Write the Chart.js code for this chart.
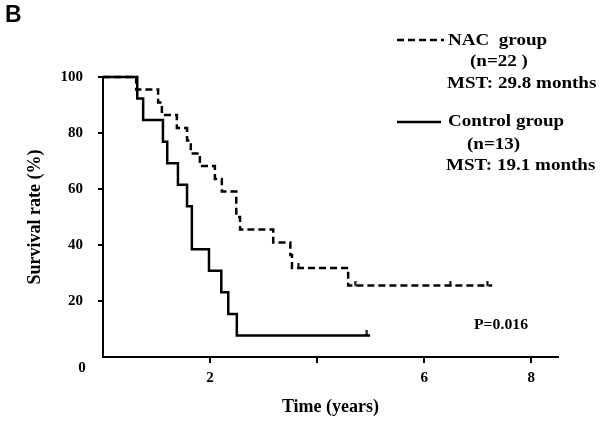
<!DOCTYPE html>
<html><head><meta charset="utf-8">
<script src="https://cdn.jsdelivr.net/npm/chart.js@4"></script>
<style>html,body{margin:0;padding:0;background:#fff}</style>
</head><body>
<canvas id="c" width="602" height="421"></canvas>
<script>
// NAC group (n=22)
const nacTimes    = [0, 0.62, 1.03, 1.10, 1.38, 1.57, 1.64, 1.81, 2.09, 2.22, 2.49, 2.56, 3.18, 3.50, 3.53, 4.58, 7.27];
const nacSurvival = [100, 95.5, 90.9, 86.4, 81.8, 77.3, 72.7, 68.2, 63.6, 59.1, 50.0, 45.5, 40.9, 36.4, 31.8, 25.5, 25.5];
const nacCensorTimes    = [3.65, 4.71, 6.49, 7.18];
const nacCensorSurvival = [31.8, 25.5, 25.5, 25.5];
// Control group (n=13)
const ctrlTimes    = [0, 0.64, 0.75, 1.12, 1.20, 1.40, 1.57, 1.66, 1.98, 2.21, 2.34, 2.50, 4.99];
const ctrlSurvival = [100, 92.3, 84.6, 76.9, 69.2, 61.5, 53.8, 38.5, 30.8, 23.1, 15.4, 7.7, 7.7];
const ctrlCensorTimes    = [4.93];
const ctrlCensorSurvival = [7.7];
// Axis ticks
const xTickValues = [0, 2, 4, 6, 8];
const xTickLabels = ['', '2', '', '6', '8'];
const yTickValues = [0, 20, 40, 60, 80, 100];
const yTickLabels = ['', '20', '40', '60', '80', '100'];

const pts = (xs, ys) => xs.map((x, i) => ({x: x, y: ys[i]}));
const SERIF = '"Liberation Serif", "Times New Roman", serif';

// censor tick marker (upward tick only)
const tickImg = document.createElement('canvas');
tickImg.width = 3; tickImg.height = 10;
(function () {
  const g = tickImg.getContext('2d');
  g.fillStyle = '#000';
  g.fillRect(0.5, 0, 2, 5.5);
})();

const textPlugin = {
  id: 'texts',
  afterDraw(chart) {
    const ctx = chart.ctx;
    ctx.save();
    ctx.fillStyle = '#000';
    const txt = (s, x, y, font, sx, align) => {
      ctx.save();
      ctx.font = font;
      ctx.textBaseline = 'middle';
      ctx.textAlign = align || 'left';
      ctx.translate(x, y);
      ctx.scale(sx || 1, 1);
      ctx.fillText(s, 0, 0);
      ctx.restore();
    };
    txt('B', 5, 16, 'bold 23px "Liberation Sans", Arial, sans-serif', 1);
    txt('0', 82, 368, 'bold 15px ' + SERIF, 1, 'center');
    const lf = 'bold 17px ' + SERIF;
    const sx = 1.12;
    ctx.strokeStyle = '#000';
    ctx.lineWidth = 2.5;
    ctx.setLineDash([7, 4]);
    ctx.beginPath(); ctx.moveTo(397, 40); ctx.lineTo(444, 40); ctx.stroke();
    ctx.setLineDash([]);
    ctx.beginPath(); ctx.moveTo(397, 122); ctx.lineTo(441, 122); ctx.stroke();
    txt('NAC  group', 448, 41, lf, sx);
    txt('(n=22 )', 470, 62, lf, sx);
    txt('MST: 29.8 months', 447, 84, lf, sx);
    txt('Control group', 448, 122, lf, sx);
    txt('(n=13)', 467, 145, lf, sx);
    txt('MST: 19.1 months', 446, 166, lf, sx);
    txt('P=0.016', 474, 325, 'bold 15px ' + SERIF, 1.05);
    ctx.restore();
  }
};

const censorStyle = {
  showLine: false,
  pointStyle: tickImg,
  pointRadius: 5,
  borderColor: '#000',
  clip: false
};

new Chart(document.getElementById('c'), {
  type: 'line',
  data: {
    datasets: [
      {
        label: 'NAC group',
        data: pts(nacTimes, nacSurvival),
        stepped: 'before',
        borderColor: '#000',
        borderWidth: 2.5,
        borderDash: [7, 4],
        pointRadius: 0,
        fill: false,
        clip: false
      },
      {
        label: 'Control group',
        data: pts(ctrlTimes, ctrlSurvival),
        stepped: 'before',
        borderColor: '#000',
        borderWidth: 2.5,
        pointRadius: 0,
        fill: false,
        clip: false
      },
      Object.assign({ label: 'NAC censored', data: pts(nacCensorTimes, nacCensorSurvival) }, censorStyle),
      Object.assign({ label: 'Control censored', data: pts(ctrlCensorTimes, ctrlCensorSurvival) }, censorStyle)
    ]
  },
  options: {
    responsive: false,
    animation: false,
    devicePixelRatio: 1,
    layout: { padding: { left: 0, right: 44, top: 77, bottom: 0 } },
    plugins: { legend: { display: false }, tooltip: { enabled: false } },
    scales: {
      x: {
        type: 'linear',
        min: 0,
        max: 8.5,
        afterBuildTicks: (s) => { s.ticks = xTickValues.map(v => ({value: v})); },
        afterFit: (s) => { s.height = 64; },
        ticks: {
          color: '#000',
          padding: 6,
          font: { family: SERIF, size: 15, weight: 'bold' },
          callback: (v) => { const i = xTickValues.indexOf(v); return i >= 0 ? xTickLabels[i] : ''; }
        },
        grid: {
          display: true, drawOnChartArea: false, drawTicks: true, tickLength: 6,
          color: (c) => (c.tick && c.tick.value === 0) ? 'rgba(0,0,0,0)' : '#000',
          lineWidth: 2
        },
        border: { display: true, color: '#000', width: 2 },
        title: {
          display: true, text: 'Time (years)', color: '#000',
          font: { family: SERIF, size: 18, weight: 'bold' },
          padding: { top: 0, bottom: 3 }
        }
      },
      y: {
        type: 'linear',
        min: 0,
        max: 100,
        afterBuildTicks: (s) => { s.ticks = yTickValues.map(v => ({value: v})); },
        afterFit: (s) => { s.width = 103; },
        ticks: {
          color: '#000',
          padding: 15,
          font: { family: SERIF, size: 15, weight: 'bold' },
          callback: (v) => { const i = yTickValues.indexOf(v); return i >= 0 ? yTickLabels[i] : ''; }
        },
        grid: {
          display: true, drawOnChartArea: false, drawTicks: true, tickLength: 5,
          color: (c) => (c.tick && c.tick.value === 0) ? 'rgba(0,0,0,0)' : '#000',
          lineWidth: 2
        },
        border: { display: true, color: '#000', width: 2 },
        title: {
          display: true, text: 'Survival rate (%)', color: '#000',
          font: { family: SERIF, size: 18, weight: 'bold' },
          padding: { top: 25, bottom: 0 }
        }
      }
    }
  },
  plugins: [textPlugin]
});
</script>
</body></html>
